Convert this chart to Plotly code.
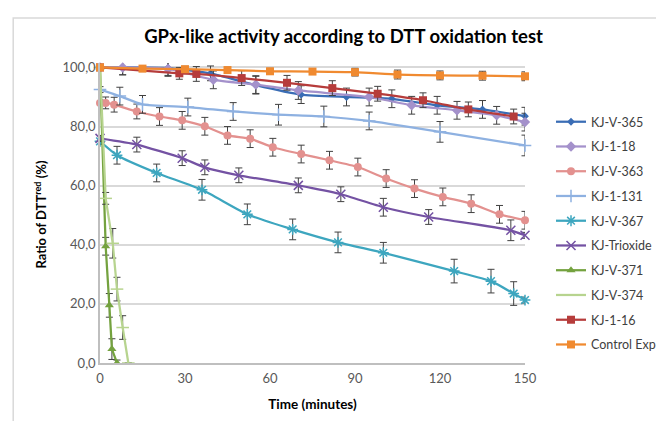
import plotly.graph_objects as go

# ---- data ----
v365_x = [0, 8, 24, 39, 55, 71, 87, 103, 119, 135, 150]
v365_y = [100, 100, 99.8, 98, 94, 90.8, 90, 89.4, 87.2, 85.8, 83.5]
v365_e = [0.5, 2.5, 2.5, 2.5, 3, 3, 3, 3, 3, 3, 3]

k118_x = [0, 8, 24, 40, 55, 70, 95, 110, 126, 140, 150]
k118_y = [100, 100, 99.5, 95.8, 94.2, 92.2, 90, 87.2, 85.5, 83.8, 81.5]
k118_e = [0.5, 2.5, 2.5, 3, 3, 3, 3, 3, 3, 3, 3]

v363_x = [0, 2, 5, 13, 21, 29, 37, 45, 53, 61, 71, 81, 91, 101, 111, 121, 131, 141, 150]
v363_y = [88, 88, 87.4, 85.1, 83.4, 82.1, 80.1, 77, 75.9, 73, 70.7, 68.6, 66.3, 62.4, 59, 56.2, 53.9, 50.3, 48.3]
v363_e = [1, 2, 2.5, 2.5, 3, 3, 3, 3, 3, 3, 3, 3, 3, 3, 3, 3, 3, 3, 3]

k131_x = [0, 7, 15, 31, 47, 63, 79, 95, 120, 150]
k131_y = [92.5, 90.3, 87.5, 86.6, 85.1, 84, 83.4, 81.9, 78.2, 73.6]
k131_e = [1, 3, 3, 3, 3, 3.5, 3.5, 3, 3.5, 3.5]

v367_x = [0, 6, 20, 36, 52, 68, 84, 100, 125, 138, 146, 150]
v367_y = [75, 70.3, 64.3, 58.6, 50.3, 45.2, 40.8, 37.3, 31.1, 27.7, 23.5, 21.3]
v367_e = [1, 3, 3, 3.5, 3.5, 3.5, 3.5, 3.5, 4, 4, 4, 1]

trio_x = [0, 13, 29, 37, 49, 70, 85, 100, 116, 145, 150]
trio_y = [76, 73.9, 69.3, 66.2, 63.5, 60.1, 57.1, 52.7, 49.4, 44.9, 43.2]
trio_e = [1, 2.5, 2.5, 2.5, 2.5, 2.5, 2.5, 3, 2.5, 3.5, 1]

v371_x = [0, 2, 3.3, 4.2, 6]
v371_y = [100, 39.5, 19.5, 4.7, 0]
v371_e = [1, 3, 4, 3.5, 1]

v374_x = [0, 2, 4.5, 6, 8, 10]
v374_y = [100, 55.7, 40.5, 25, 12, 0]
v374_e = [1, 2, 5, 4, 4, 0]

k116_x = [0, 28, 34, 50, 66, 82, 98, 114, 130, 146]
k116_y = [100, 98, 97.8, 96.4, 94.8, 93.0, 91.1, 88.9, 85.8, 83.4]
k116_e = [0.5, 2, 2.5, 2.5, 2.5, 2.5, 2.5, 2.5, 2.5, 2.5]

ctrl_x = [0, 15, 30, 45, 60, 75, 90, 105, 120, 135, 150]
ctrl_y = [100, 99.6, 99.4, 99.1, 98.7, 98.6, 98.4, 97.6, 97.3, 97.2, 97.0]
ctrl_e = [0.5, 1, 1, 1, 1, 1, 1.3, 1.5, 1.5, 1.5, 1.5]

y_tickvals = [0, 20, 40, 60, 80, 100]
y_ticktext = ["0,0", "20,0", "40,0", "60,0", "80,0", "100,0"]
x_tickvals = [0, 30, 60, 90, 120, 150]
x_ticktext = ["0", "30", "60", "90", "120", "150"]

series = [
    ("KJ-V-365", v365_x, v365_y, v365_e, "#3A6DB5", "diamond", 6, "spline"),
    ("KJ-1-18", k118_x, k118_y, k118_e, "#A491CB", "diamond", 8, "spline"),
    ("KJ-V-363", v363_x, v363_y, v363_e, "#E3918F", "circle", 8, "spline"),
    ("KJ-1-131", k131_x, k131_y, k131_e, "#8EB1E1", "cross-thin-open", 9, "spline"),
    ("KJ-V-367", v367_x, v367_y, v367_e, "#3DA6BF", "asterisk-open", 9, "spline"),
    ("KJ-Trioxide", trio_x, trio_y, trio_e, "#7452A3", "x-thin-open", 9, "spline"),
    ("KJ-V-371", v371_x, v371_y, v371_e, "#74A23F", "triangle-up", 8, "linear"),
    ("KJ-V-374", v374_x, v374_y, v374_e, "#B7D48F", "line-ew-open", 9, "linear"),
    ("KJ-1-16", k116_x, k116_y, k116_e, "#B63C3B", "square", 8, "spline"),
    ("Control Exp", ctrl_x, ctrl_y, ctrl_e, "#F08A30", "square", 8, "spline"),
]

fig = go.Figure()
for name, xs, ys, es, col, sym, sz, shape in series:
    mk = dict(symbol=sym, size=sz, color=col)
    if sym.endswith("-open"):
        mk["line"] = dict(color=col, width=1.5)
    fig.add_trace(go.Scatter(
        x=xs, y=ys, name=name, mode="lines+markers",
        line=dict(color=col, width=2.25, shape=shape, smoothing=0.5),
        marker=mk,
        error_y=dict(type="data", array=es, color="#404040", thickness=1, width=3.5),
        cliponaxis=False, legendgroup=name,
    ))

fig.update_layout(
    width=664, height=421,
    margin=dict(l=92, r=146, t=55, b=66),
    paper_bgcolor="white", plot_bgcolor="white",
    font=dict(family="Lato, Calibri, sans-serif", size=12, color="#595959"),
    title=dict(text="<b>GPx-like activity according to DTT oxidation test</b>",
               x=0.573, xref="paper", xanchor="center", y=0.933, yref="container", yanchor="middle",
               font=dict(size=18.5, color="#000000")),
    showlegend=True,
    legend=dict(x=1.0587, xanchor="left", y=0.853, yanchor="top",
                font=dict(size=12.5, color="#404040"), tracegroupgap=5.5,
                bgcolor="rgba(0,0,0,0)", itemwidth=30),
    shapes=[dict(type="rect", xref="paper", yref="paper",
                 x0=-0.2042, x1=1.8, y0=-0.5, y1=1.15,
                 line=dict(color="#d9d9d9", width=1.5), fillcolor="rgba(0,0,0,0)", layer="below")],
    annotations=[dict(text="<b>Ratio of DTT<sup>red</sup> (%)</b>", textangle=-90,
                      xref="paper", yref="paper", x=-0.141, y=0.495,
                      xanchor="center", yanchor="middle", showarrow=False,
                      font=dict(size=13, color="#000000"))],
)
fig.update_xaxes(range=[0, 150], tickvals=x_tickvals, ticktext=x_ticktext,
                 showgrid=False, zeroline=False, showline=True, linecolor="#bfbfbf", linewidth=1.5,
                 ticks="", ticklabelstandoff=3, tickfont=dict(size=13, color="#595959"), automargin=False,
                 title=dict(text="<b>Time (minutes)</b>", font=dict(size=13.5, color="#000000"), standoff=14))
fig.update_yaxes(range=[0, 101.5], tickvals=y_tickvals, ticktext=y_ticktext,
                 showgrid=True, gridcolor="#d9d9d9", gridwidth=1.5, zeroline=False,
                 showline=True, linecolor="#bfbfbf", linewidth=1.5, automargin=False,
                 ticks="", tickfont=dict(size=13, color="#595959"))

fig.write_html("out.html")
